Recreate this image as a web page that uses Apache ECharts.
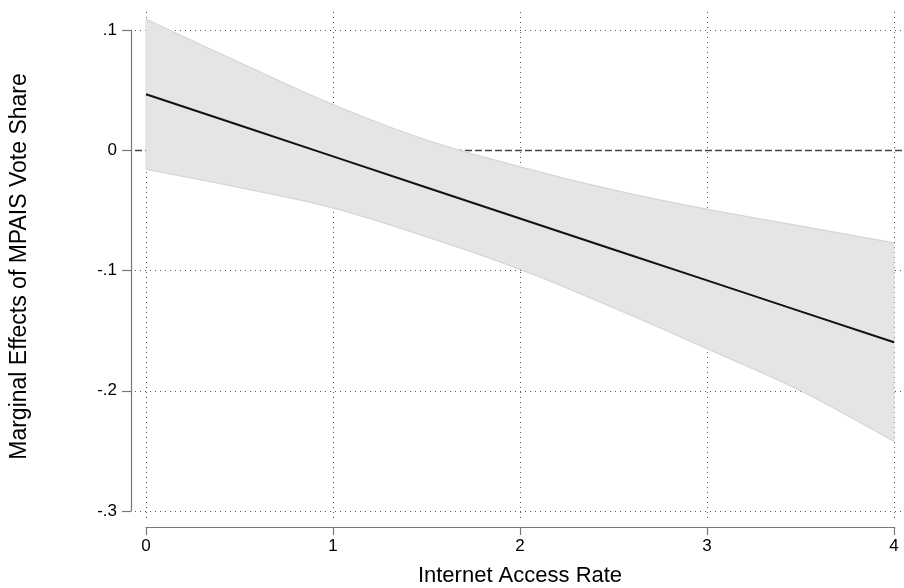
<!DOCTYPE html>
<html><head><meta charset="utf-8">
<script src="https://cdn.jsdelivr.net/npm/echarts@6/dist/echarts.min.js"></script>
<style>html,body{margin:0;padding:0;background:#fff}#c{width:904px;height:588px}</style>
</head><body><div id="c"></div>
<script>
// ---- data ----
const xValues = [0, 0.5, 1, 1.5, 2, 2.5, 3, 3.5, 4];
const marginalEffect = [0.0466, 0.0208, -0.0051, -0.0310, -0.0568, -0.0825, -0.1082, -0.1340, -0.1597];
const ciUpper = [0.109, 0.073, 0.038, 0.0085, -0.0137, -0.033, -0.049, -0.063, -0.077];
const ciLower = [-0.0158, -0.031, -0.048, -0.072, -0.099, -0.131, -0.165, -0.200, -0.242];
const xTicks = [0, 1, 2, 3, 4];
const yTicks = [-0.3, -0.2, -0.1, 0, 0.1];
const yTickLabels = ['-.3', '-.2', '-.1', '0', '.1'];
const refLineY = 0;
const xTitle = 'Internet Access Rate';
const yTitle = 'Marginal Effects of MPAIS Vote Share';

const FONT = 'Arial, "Liberation Sans", sans-serif';
const chart = echarts.init(document.getElementById('c'), null, {renderer: 'canvas'});

const bandData = xValues.map((x, i) => [x, ciLower[i], ciUpper[i]]);
const lineData = xValues.map((x, i) => [x, marginalEffect[i]]);

const gridMarks = [];
xTicks.forEach(v => gridMarks.push({xAxis: v}));
yTicks.forEach(v => gridMarks.push({yAxis: v}));
gridMarks.push({yAxis: refLineY, lineStyle: {type: [7, 3], color: '#444', width: 1.4}});

// Catmull-Rom smoothing of pixel points (rendering only)
function smoothPts(p, steps) {
  const out = [];
  for (let i = 0; i < p.length - 1; i++) {
    const p0 = p[Math.max(i - 1, 0)], p1 = p[i], p2 = p[i + 1], p3 = p[Math.min(i + 2, p.length - 1)];
    for (let s = 0; s < steps; s++) {
      const t = s / steps, t2 = t * t, t3 = t2 * t;
      const f = k => 0.5 * ((2 * p1[k]) + (-p0[k] + p2[k]) * t +
        (2 * p0[k] - 5 * p1[k] + 4 * p2[k] - p3[k]) * t2 + (-p0[k] + 3 * p1[k] - 3 * p2[k] + p3[k]) * t3);
      out.push([f(0), f(1)]);
    }
  }
  out.push(p[p.length - 1]);
  return out;
}

const option = {
  backgroundColor: '#fff',
  animation: false,
  grid: [
    {left: 135, right: 0, top: 8, bottom: 70, outerBoundsMode: 'none'},
    {left: 146, right: 10, top: 30, bottom: 77, outerBoundsMode: 'none'}
  ],
  xAxis: [
    {gridIndex: 0, type: 'value', min: -0.0588, max: 4.0535, show: false, splitLine: {show: false}},
    {gridIndex: 1, type: 'value', min: 0, max: 4, interval: 1, offset: 16,
     axisLine: {show: true, onZero: false, lineStyle: {color: '#777', width: 1.2}},
     axisTick: {show: true, length: 8, lineStyle: {color: '#777', width: 1.2}},
     axisLabel: {color: '#000', fontSize: 17, fontFamily: FONT, margin: 11},
     splitLine: {show: false},
     name: xTitle, nameLocation: 'middle', nameGap: 38,
     nameTextStyle: {color: '#000', fontSize: 22, fontFamily: FONT}}
  ],
  yAxis: [
    {gridIndex: 0, type: 'value', min: -0.3058, max: 0.1183, show: false, splitLine: {show: false}},
    {gridIndex: 1, type: 'value', min: -0.3, max: 0.1, interval: 0.1, offset: 15,
     axisLine: {show: true, onZero: false, lineStyle: {color: '#777', width: 1.2}},
     axisTick: {show: true, length: 9, lineStyle: {color: '#777', width: 1.2}},
     axisLabel: {color: '#000', fontSize: 17, fontFamily: FONT, margin: 14,
       formatter: v => {
         let best = 0;
         yTicks.forEach((t, i) => { if (Math.abs(t - v) < Math.abs(yTicks[best] - v)) best = i; });
         return yTickLabels[best];
       }},
     splitLine: {show: false},
     name: yTitle, nameLocation: 'middle', nameGap: 100,
     nameTextStyle: {color: '#000', fontSize: 23, fontFamily: FONT, padding: [0, 0, 0, 8]}}
  ],
  series: [
    {
      type: 'line', xAxisIndex: 0, yAxisIndex: 0, data: lineData, z: 0,
      symbol: 'none', lineStyle: {opacity: 0}, silent: true,
      markLine: {silent: true, symbol: 'none', z: 1, label: {show: false},
        lineStyle: {type: [1, 4], color: '#555', width: 1}, data: gridMarks}
    },
    {
      type: 'custom', xAxisIndex: 0, yAxisIndex: 0, data: bandData, z: 2, silent: true,
      renderItem: (params, api) => {
        if (params.dataIndex !== 0) return null;
        const up = smoothPts(bandData.map(d => api.coord([d[0], d[2]])), 10);
        const lo = smoothPts(bandData.map(d => api.coord([d[0], d[1]])), 10);
        const pts = up.concat(lo.slice().reverse());
        return {type: 'group', children: [
          {type: 'polygon', shape: {points: pts}, style: {fill: '#e5e5e5', stroke: '#dcdcdc', lineWidth: 1}},
          {type: 'polyline', shape: {points: up}, style: {fill: null, stroke: '#d6d6d6', lineWidth: 1}},
          {type: 'polyline', shape: {points: lo}, style: {fill: null, stroke: '#d6d6d6', lineWidth: 1}}
        ]};
      }
    },
    {
      type: 'line', xAxisIndex: 0, yAxisIndex: 0, data: lineData, z: 3,
      symbol: 'none', lineStyle: {color: '#111', width: 2}, silent: true
    }
  ]
};
chart.setOption(option);
</script></body></html>
